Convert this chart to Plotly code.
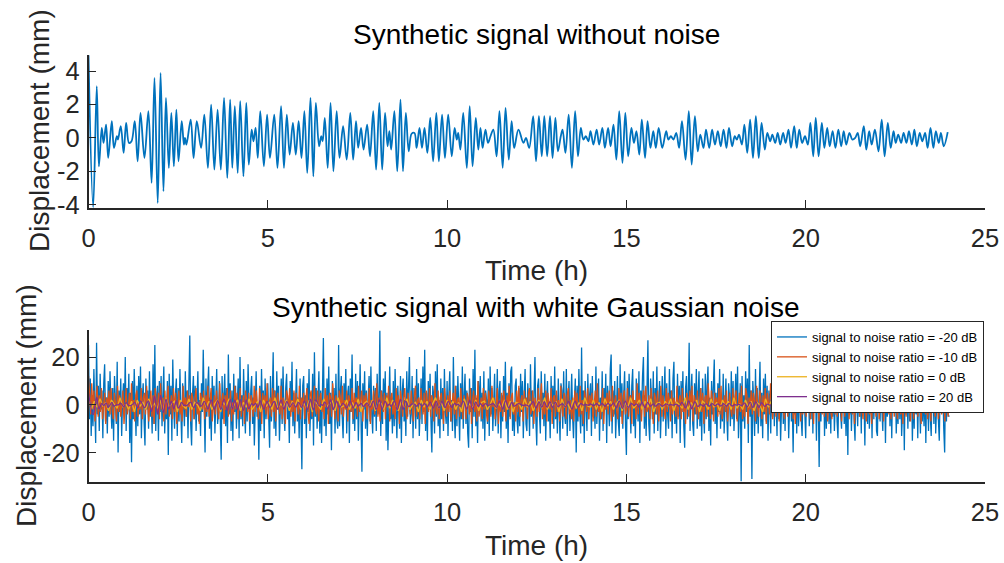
import numpy as np
import plotly.graph_objects as go

# ---------------- data ----------------
# Clean synthetic signal: times (h) and displacement (mm) at its turning points
sig_t = [0.00, 0.13, 0.23, 0.29, 0.37, 0.42, 0.49, 0.55, 0.65, 0.71, 0.79, 0.82, 0.90, 0.98, 1.05, 1.13, 1.20,
         1.29, 1.37, 1.45, 1.56, 1.67, 1.76, 1.84, 1.93, 2.01, 2.09, 2.16, 2.24, 2.31, 2.38, 2.45, 2.51, 2.60,
         2.66, 2.69, 2.73, 2.85, 2.93, 3.02, 3.14, 3.23, 3.33, 3.42, 3.51, 3.60, 3.69, 3.78, 3.87, 3.95, 4.01,
         4.08, 4.16, 4.23, 4.32, 4.40, 4.47, 4.55, 4.60, 4.66, 4.72, 4.79, 4.89, 4.98, 5.06, 5.18, 5.27, 5.37,
         5.45, 5.53, 5.61, 5.70, 5.78, 5.86, 5.94, 6.02, 6.10, 6.19, 6.27, 6.34, 6.43, 6.49, 6.53, 6.59, 6.67,
         6.75, 6.83, 6.92, 7.00, 7.10, 7.20, 7.30, 7.38, 7.46, 7.52, 7.60, 7.67, 7.77, 7.85, 7.94,
         8.02, 8.11, 8.19, 8.27, 8.34, 8.39, 8.44, 8.53, 8.61, 8.70, 8.77, 8.85, 8.93, 9.01, 9.09, 9.15, 9.23,
         9.30, 9.37, 9.45, 9.53, 9.61, 9.70, 9.77, 9.86, 9.94, 10.03, 10.13, 10.21, 10.27, 10.31, 10.37, 10.45,
         10.55, 10.63, 10.71, 10.80, 10.87, 10.93, 10.99, 11.07, 11.14, 11.21, 11.29, 11.38, 11.46, 11.55,
         11.63, 11.72, 11.80, 11.87, 11.99, 12.13, 12.20, 12.29, 12.40, 12.48, 12.56, 12.64, 12.71, 12.79,
         12.87, 12.94, 13.02, 13.09, 13.17, 13.22, 13.30, 13.39, 13.48, 13.57, 13.65, 13.73, 13.80, 13.87,
         13.94, 14.00, 14.08, 14.17, 14.24, 14.33, 14.40, 14.49, 14.56, 14.64, 14.72, 14.80, 14.89, 14.97,
         15.05, 15.14, 15.21, 15.28, 15.36, 15.43, 15.52, 15.59, 15.67, 15.75, 15.82, 15.90,
         16.00, 16.11, 16.17, 16.24, 16.31, 16.39, 16.47, 16.55, 16.65, 16.74, 16.82, 16.91, 16.99, 17.06,
         17.15, 17.22, 17.31, 17.39, 17.47, 17.55, 17.63, 17.71, 17.79, 17.86, 17.95, 18.02, 18.08, 18.14,
         18.22, 18.29, 18.37, 18.45, 18.53, 18.61, 18.69, 18.77, 18.86, 18.93, 19.01, 19.07, 19.15, 19.22,
         19.29, 19.37, 19.44, 19.52, 19.59, 19.68, 19.75, 19.82, 19.90, 19.98, 20.06, 20.13, 20.21, 20.28,
         20.36, 20.45, 20.52, 20.60, 20.67, 20.75, 20.83, 20.91, 20.99, 21.06, 21.13, 21.22, 21.30, 21.38,
         21.45, 21.52, 21.62, 21.69, 21.77, 21.84, 21.93, 22.03, 22.12, 22.20, 22.29, 22.37, 22.45, 22.51,
         22.58, 22.66, 22.73, 22.81, 22.88, 22.96, 23.03, 23.10, 23.18, 23.25, 23.33, 23.40, 23.48, 23.56,
         23.63, 23.71, 23.77, 23.85, 23.96]
sig_v = [4.95, -4.15, 3.1, -1.7, 0.6, -0.3, 0.8, -1.2, 1.0, -0.6, 0.1, -0.1, 0.7, -0.9, 0.9, -0.3, -0.2,
         1.0, -1.4, 1.5, -1.2, 1.6, -2.7, 3.6, -3.9, 3.9, -3.2, 2.4, -1.8, 1.5, -1.7, 1.7, -1.4, 1.0,
         -0.4, 0.0, -0.4, 1.1, -1.2, 1.0, -0.6, 1.4, -1.8, 2.0, -1.9, 1.7, -1.9, 2.4, -2.4, 2.3, -1.8,
         1.9, -2.1, 2.2, -2.3, 2.1, -1.6, 0.5, -0.2, 0.6, -1.2, 1.6, -1.7, 1.4, -1.2, 1.4, -1.8, 1.9,
         -1.8, 1.4, -1.0, 0.9, -1.0, 1.0, -1.2, 1.6, -2.1, 2.4, -2.3, 2.1, -0.5, 0.1, -0.2, 1.2, -1.8,
         2.1, -2.0, 1.6, -1.2, 0.7, -1.3, 1.5, -1.3, 1.0, -0.6, 0.6, -0.7, 0.8, -1.1, 1.6,
         -1.9, 2.1, -1.9, 1.5, -0.5, 0.4, -0.7, 1.6, -2.0, 2.3, -2.0, 1.5, -0.8, 0.25, 0.3, -0.6, 0.6,
         -0.6, 0.6, -0.9, 1.2, -1.4, 1.5, -1.4, 1.4, -1.2, 1.4, -1.1, 0.6, -0.1, 0.3, -0.7, 1.5,
         -1.8, 1.9, -1.7, 1.2, -0.7, 0.6, -0.6, 0.5, -0.3, 0.1, 0.5, -1.1, 1.6, -1.8,
         1.8, -1.3, 1.0, -0.6, 0.5, -0.3, 0.0, -0.6, 1.3, -1.4, 1.3, -1.1, 1.3, -1.1,
         1.3, -1.2, 1.2, -0.8, 0.1, 0.5, -0.9, 1.4, -1.8, 1.6, -1.1, 0.6, -0.1, 0.1,
         -0.2, 0.4, -0.4, 0.5, -0.4, 0.6, -0.6, 0.6, -0.5, 0.8, -1.3, 1.6, -1.5, 1.5,
         -1.1, 0.6, -0.3, 0.4, -1.0, 1.1, -1.2, 1.0, -0.6, 0.4, -0.6, 0.6,
         -0.6, 0.4, -0.1, 0.1, -0.1, 0.3, -0.6, 1.0, -1.3, 1.6, -1.6, 1.3, -0.8, 0.2,
         -0.6, 0.5, -0.6, 0.5, -0.4, 0.4, -0.5, 0.5, -0.6, 0.6, -0.5, 0.1, -0.1, 0.2,
         -0.4, 0.8, -0.9, 1.1, -1.2, 1.3, -1.2, 0.9, -0.7, 0.3, -0.2, 0.2, -0.3, 0.3,
         -0.4, 0.3, -0.3, 0.5, -0.6, 0.7, -0.6, 0.5, -0.3, 0.1, -0.4, 0.9, -1.1, 1.2,
         -1.1, 0.9, -0.6, 0.6, -0.5, 0.4, -0.6, 0.5, -0.5, 0.4, -0.4, 0.3, -0.1, 0.0,
         0.3, -0.5, 0.7, -0.7, 0.4, -0.4, 0.5, -0.8, 1.1, -1.1, 0.9, -0.6, 0.4, -0.3,
         0.2, -0.3, 0.3, -0.3, 0.4, -0.4, 0.5, -0.5, 0.3, -0.2, 0.3, -0.6, 0.6, -0.6,
         0.4, -0.3, 0.3, -0.5, 0.35]

# Noisy signals, evenly sampled over 0-24 h (one row = 1 h for -20 dB, 1.5 h for -10 dB, 2 h for 0 dB)
snr_m20 = [
    25, -6, 11, -13, 4, -9, 15, 2, -16, 26, -4, 8, -11, 13, -2, 6, -14, 9, 17, -7, 3, -12, 10, -5, 14, -1, -10, 7, -15, 12, 4, -8, 18, -20, 6, -3, 11, -13, 2, 9,
    -5, 20, -11, 7, -2, 13, -16, 5, -24, 10, -6, 15, 1, -13, 8, -9, 12, -4, 16, -14, 3, 9, -7, -17, 11, -2, 6, -10, 14, -5, 1, -12, 17, -8, 25, -11, 4, 8, -15, 10,
    -3, 12, -9, 6, 16, -12, 2, -6, 10, -21, 13, -4, 8, -15, 19, -1, -10, 5, 11, -13, 7, -7, 15, -3, -16, 9, 2, -9, 14, -5, 6, -14, 10, 29, -8, -17, 4, 12, -6, 8,
    -11, 5, 14, -7, 2, -13, 9, -3, 23, 1, -20, 11, -5, 7, 16, -10, 3, -15, 12, -2, 8, -12, 5, 15, -8, -3, 10, -14, -23, 12, -6, 4, 13, -9, 7, -16, 21, -4, 9, -11,
    6, -15, 13, -3, 8, -10, 2, 11, -14, 20, -6, 4, -9, 15, -1, -12, 10, -7, 17, -4, -13, 6, 12, -8, 3, -17, 9, 14, -5, 1, -23, 8, -11, 15, -2, 6, -14, 11, -6, 4,
    9, -5, -18, 12, -7, 3, 22, -10, 6, -13, 14, -2, 8, -15, 1, 11, -8, 16, -4, -11, 7, 13, -6, 2, -16, 10, -3, 18, -9, 5, -12, 9, 15, -7, 3, -14, 11, -5, -27, 8,
    12, -8, 4, -14, 9, -3, 15, -11, 2, -6, 13, -17, 22, -5, 7, -10, 3, 14, -12, 6, -16, 9, 28, -9, 1, -13, 11, -4, 16, -8, 5, -19, 10, -2, 7, -12, 13, -6, -10, 25,
    -9, 6, 12, -5, -14, 9, -1, 15, -12, 4, 8, -16, 11, -3, 21, -8, 2, -11, 13, -6, 10, -15, 4, 17, -7, -28, 9, -2, 14, -10, 6, -13, 3, 12, -7, 16, -4, -12, 8, -5,
    7, -11, 13, -4, 2, 31, -13, 6, -8, 11, -2, 14, -15, 5, -19, 9, 16, -6, 3, -12, 10, -9, 15, -3, -14, 8, 1, -10, 12, -16, 6, 11, -7, 2, -13, 14, -5, 9, 20, -8,
    -4, 12, -14, 7, 3, -10, 15, -6, 9, -13, 1, 11, -8, 16, -3, 23, -11, 5, -15, 10, -2, 13, -7, -20, 8, 4, -12, 14, -5, 17, -9, 2, -14, 11, -6, 7, -11, 15, -3, -8,
    10, -13, 5, 14, -7, 2, -11, 20, -4, -14, 8, -9, 12, 1, -15, 9, -6, 16, -10, 4, 13, -8, 6, -12, -18, 11, -3, 7, -14, 15, -5, 23, -9, 3, -16, 10, -2, 12, -7, 5,
    -10, 14, -15, 6, 2, -8, 11, -13, 16, -4, 7, -11, 3, 13, -9, -2, 15, -12, 6, 10, -14, 4, -7, 12, -3, 18, -10, 5, -16, 9, -5, 14, 16, -11, 1, -13, 8, 11, -6, -12,
    7, -9, 13, -3, 10, -14, 4, 15, -8, -11, 9, 2, -13, 17, -5, 6, -10, 12, 20, -6, -17, 8, 11, -4, -12, 14, -2, 5, -9, 13, -15, 3, 10, -7, 1, -14, 12, -3, 8, -10,
    16, -6, 4, -12, 11, -2, -15, 9, 6, -10, 14, -4, -8, 15, -13, 3, 10, -11, 7, 13, -5, -14, 2, 11, -20, 8, -7, 15, -3, -12, 24, -9, 6, -16, 10, 1, -11, 13, -6, 4,
    9, -13, 12, -5, 2, -10, 16, -8, 5, 11, -15, 3, -6, 14, -11, 7, -2, 13, -16, 8, 1, -9, 15, 21, -12, 6, -4, 10, -14, 3, 12, -7, -13, 17, -5, 9, -10, 4, 14, -8,
    -21, 10, -6, 13, -3, -12, 8, 15, -9, 2, -14, 11, 5, -7, 14, -16, 6, -2, 12, 20, -10, 4, -13, 9, 27, -8, -15, 11, 3, -6, 14, -12, 7, -4, 16, -11, 2, 10, -14, 5,
    12, -7, 3, 16, -13, 9, -4, -10, 15, -2, 6, -14, 11, 18, -8, 1, -12, 13, -5, 8, -16, 10, -3, 14, -9, -18, 7, 12, -6, 2, 26, -11, 5, 13, -8, -13, 9, -4, 15, -10,
    4, 14, -9, 7, -15, 11, -2, -12, 13, -6, 8, 16, -11, 3, -17, 10, -4, 12, 19, -8, 5, -14, 9, -3, 15, -10, 2, -7, 13, -12, 6, 11, -5, -15, 9, 3, -9, 14, -6, 10,
    -11, 8, 13, -6, 16, -14, 3, 9, -32, 12, -7, 4, -10, 14, -3, 11, -16, 25, -5, 6, -31, 10, 2, -13, 15, -8, 7, -12, 3, 18, -9, 5, -14, 11, -4, 13, -7, 8, -15, 6,
    2, -12, 11, -5, 14, -9, 7, 3, -13, 15, -6, 10, -15, 4, 12, -8, 6, -11, 16, -2, 9, -14, 5, 13, -7, 1, -20, 11, -4, 8, -12, 14, -9, 3, 10, -6, -13, 7, 12, -3,
    -14, 8, 5, 12, -9, 3, -6, 15, -12, 10, -2, 7, -15, 13, 4, -26, 9, -7, 11, -3, 16, -13, 6, -10, 2, 14, -8, 5, -12, 17, -5, 9, -11, 3, 13, -7, -14, 8, 10, -4,
    -10, 12, 6, -8, 3, -13, 11, -21, 14, -4, 7, -11, 9, 15, -6, -15, 10, 2, -9, 13, -5, 8, -12, 16, -3, 4, -17, 11, 6, -8, 13, -10, 1, 9, -14, 12, -6, 5, 15, -11,
    -13, 9, 4, -7, 15, -2, -11, 12, 6, -16, 10, -5, 3, 14, -9, 8, -14, 11, -3, 7, 13, -12, 2, -8, 16, -6, 10, -13, 5, 9, -19, 12, -4, 7, -10, 14, -7, 3, 11, -15,
    6, -10, 13, -4, 8, -14, 11, 2, -12, 15, -7, 5, -9, 12, -16, 10, 3, -11, 14, -5, -13, 9, 6, -8, 16, -12, 4, 11, -6, -15, 8, 13, -3, 7, -10, -20, 12, -7, 9, -4,
    -5]
snr_m10 = [
    12, 3, -4, 9, -2, 6, -7, 1, 8, -5, 4, -3, 7, -6, 2, 5, -8, 3, -1, 6, -4, 7, -2, -6, 5, 1, -7, 8, -3, 4, -5, 2, 6, -8, 3, 7, -4, -1, 5, -6, 9, -3, 2, -7, 4, 6, -5, 1, -2, 7,
    -6, 3, 5, -4, 8, -1, -7, 2, 6, -5, 4, -8, 7, 1, -3, 5, -6, 9, -2, 3, -7, 6, -4, 2, 8, -5, -1, 4, -6, 7, -3, 5, -8, 2, 6, -4, 1, -7, 8, -2, 3, -5, 6, -1, 4, -7, 5, 2, -6, 3,
    7, -4, 1, -8, 5, 3, -2, 6, -6, 4, -3, 8, -5, 2, 7, -7, 1, 4, -4, 6, -1, -6, 9, -3, 2, 5, -8, 4, -2, 7, -5, 3, 6, -7, 1, -4, 8, -2, 5, -6, 3, 7, -5, -1, 4, -8, 6, 2, -3, 5,
    -7, 4, 2, -5, 8, -3, 6, -1, -6, 7, 3, -8, 5, -2, 4, -4, 9, -6, 1, 3, -5, 7, -3, 6, -7, 2, 5, -1, -4, 8, -6, 3, 1, -8, 6, 4, -2, 7, -5, 2, -3, 6, -7, 5, 1, -4, 8, -6, 3, -1,
    5, -6, 2, 7, -3, -8, 4, 6, -5, 1, 8, -2, -4, 6, -7, 3, 5, -3, 2, -6, 7, -1, 4, -8, 5, 3, -5, 9, -2, -6, 4, 1, -7, 6, 3, -4, 8, -5, 2, -2, 6, -7, 4, 1, -3, 7, -6, 5, -1, 3,
    -5, 8, -3, 2, 6, -7, 4, -1, 5, -6, 3, 7, -8, 2, -2, 6, -4, 1, 9, -5, 3, -7, 6, 2, -3, 5, -6, 4, -1, 8, -7, 3, 5, -4, 1, -6, 7, -2, 4, -8, 6, 2, -5, 3, 7, -3, -6, 5, 1, -4,
    6, -2, -7, 4, 8, -5, 2, 3, -6, 7, -1, -4, 5, -8, 6, 1, -3, 7, -5, 4, 2, -7, 9, -2, -4, 6, -6, 3, 5, -1, -8, 7, 2, -5, 4, -3, 6, -7, 1, 5, -4, 8, -6, 2, 3, -5, 7, -2, -6, 4,
    1, -6, 5, 3, -4, 7, -8, 2, 6, -3, 4, -7, 10, -5, 1, 3, -6, 7, -2, 5, -4, -7, 6, 2, -5, 8, -1, 3, -6, 4, 7, -8, 2, -3, 5, -5, 6, 1, -7, 4, -2, 8, -6, 3, 5, -4, 1, -7, 6, -3,
    8, -5, 2, 4, -7, 6, -1, 3, -6, 5, 7, -4, -2, 6, -8, 3, 1, -5, 7, -3, 4, 9, -6, 2, -4, 6, -7, 5, 1, -2, 7, -8, 3, 4, -5, 6, -3, 2, -7, 8, -1, -5, 5, 3, -6, 4, 7, -4, 2, -6,
    3, -7, 6, -2, 5, 1, -5, 8, -4, 2, -8, 6, 3, -3, 7, -6, 4, -1, 5, -7, 2, 6, -5, 9, -3, 1, -6, 4, 7, -8, 3, -2, 5, -4, 6, 2, -7, 8, -5, 1, 4, -3, -6, 7, -1, 5, -8, 3, 6, -4,
    -2, 7, -5, 3, 4, -8, 6, -1, 2, -6, 9, -4, 5, 1, -7, 3, 6, -5, 8, -3, -2, 4, -6, 7, 1, -8, 5, 3, -4, 6, -7, 2, 8, -5, 4, -1, -6, 7, -3, 5, 2, -7, 6, -4, 3, 1, -5, 8, -6, 2,
    4, -6, 7, -3, 1, -8, 5, 3, -5, 6, -2, 8, -7, 4, 2, -4, 6, -6, 1, 7, -3, 5, -8, 3, 4, -5, 9, -2, -6, 6, 2, -7, 5, -1, 3, -5, 7, -4, 8, -6, 1, 4, -3, 6, -7, 2, 5, -2, -5, 7,
    -4, 3, 6, -7, 2, 5, -3, 8, -6, 1, -5, 7, 4, -8, 3, -2, 6, -4, 5, 2, -7, 8, -1, -5, 6, 3, -6, 4, -3, 7, -8, 5, 1, -4, 9, -2, -6, 3, 6, -5, 2, 7, -7, 4, -1, 5, -3, -6, 8, 2,
    -5, 6, -2, 3, 7, -6, 4, -8, 5, 1, -3, 6, -7, 8, -4, 2, 5, -5, 3, -1, 7, -6, 4, 2, -8, 6, -3, 5, 1, -7, 8, -2, -4, 6, -5, 3, 4, -7, 2, 7, -3, -6, 5, 1, -4, 8, -5, 3, -2, 6,
    -7, 4, 2, -5, 8, -1, 6, -6, 3, 5, -4, 7, -8, 1, 4, -3, 6, -5, 9, -2, -6, 5, 2, -7, 3, 6, -4, 1, -8, 7, -2, 5, -5, 3, 6, -6, 4, -1, 7, -7, 2, 5, -3, 8, -4, 1, -6, 6, 3, -5,
    5, -3, -6, 7, 2, -4, 6, -8, 4, 1, -5, 8, -2, 3, -7, 6, 4, -6, 2, -3, 7, -5, 5, 1, -8, 6, -1, 3, -4, 7, -6, 2, 5, -7, 8, -3, 4, -5, 1, 6, -6, 3, 7, -4, -2, 5, -7, 6, 2, -5,
    3]
snr_0 = [
    3.5, -2, 1.5, -1, 2.5, -0.5, 1, -2.5, 2, 0, -1.5, 3, -1, 0.5, -2, 1.5, -3, 2, -0.5, 1, -2, 2.5, -1, 0.5, -1.5,
    2, -2.5, 3, -1, 0.5, 1.5, -3, 2, -0.5, -1.5, 2.5, -2, 1, 0, -2.5, 3, -1, 1.5, -2, 0.5, 2, -3, 1, -0.5, 2.5,
    -1.5, 0.5, 2, -2.5, 1, -1, 2.5, -2, 0, 1.5, -3, 2, -0.5, 1, -2, 3, -1.5, 0.5, -1, 2, -2.5, 1.5, -0.5, 2.5, -2,
    1, -1.5, 2, -3, 1.5, 0, -2, 2.5, -1, 0.5, 1.5, -2.5, 3, -1, -0.5, 2, -2, 1, -1.5, 2.5, -3, 0.5, 1.5, -1, 2,
    -2.5, 1, 0.5, -2, 3, -1.5, 2, -0.5, -2.5, 1.5, -1, 2.5, -2, 0, 1, -3, 2, -1, 1.5, -2, 0.5, 3, -1.5, 1, -2.5,
    2, -0.5, 1.5, -2, 1, -3, 2.5, -1, 0.5, -1.5, 2, -2.5, 1, 1.5, -2, 0, 3, -1.5, 0.5, -1, 2, -2, 1.5, -3, 1,
    0.5, -2, 2.5, -1, 1.5, -2.5, 0, 2, -1.5, 3, -2, 1, -0.5, 1.5, -3, 2.5, -1, 0.5, -2, 2, -1.5, 1, -2.5, 3, -0.5,
    -1, 2, -2, 1, -3, 2.5, -0.5, 1.5, -2, 0.5, 2, -2.5, 1, -1, 3, -1.5, 0, 2, -2, 1.5, -1, 2.5, -3, 0.5, 1,
    -2, 1.5, -0.5, 2.5, -2.5, 1, 0, -1.5, 3, -2, 1, -1, 2, -3, 1.5, 0.5, -2, 2.5, -1, 1, -2.5, 2, -0.5, 1.5, -2,
    3, -1.5, 0.5, -2, 2, -1, 1.5, -2.5, 1, 0, -3, 2.5, -1, 1.5, -2, 0.5, 2, -1.5, 1, -2.5, 3, -1, 0, 1.5, -2,
    1, -2.5, 2, -0.5, 1.5, -2, 0.5, 2.5, -3, 1, -1, 2, -1.5, 0, 3, -2, 1, -1.5, 2, -2.5, 0.5, 1.5, -1, 2.5, -2,
    0.5, -1.5, 2, -2, 1, 3, -2.5, 0.5, -1, 1.5, -2, 2.5, -0.5, 1, -3, 2, -1, 0.5, 1.5, -2, 1, -2.5, 2, -1, 0.5,
    1]
# 20 dB: noise is invisible at this scale, the curve is the clean signal
snr_20_t = sig_t
snr_20_v = sig_v

series_names = ["signal to noise ratio = -20 dB", "signal to noise ratio = -10 dB",
                "signal to noise ratio = 0 dB", "signal to noise ratio = 20 dB"]
x_ticks = [0, 5, 10, 15, 20, 25]
x_ticktext = ["0", "5", "10", "15", "20", "25"]
y1_ticks = [-4, -2, 0, 2, 4]
y1_ticktext = ["-4", "-2", "0", "2", "4"]
y2_ticks = [-20, 0, 20]
y2_ticktext = ["-20", "0", "20"]

# ---------------- figure ----------------
W, H = 1004, 563
BLUE, ORANGE, YELLOW, PURPLE = "#0072BD", "#D95319", "#EDB120", "#7E2F8E"
AX = "#262626"
FONT = "Liberation Sans, Arial, Helvetica, sans-serif"
TICK_SIZE = 25.5
LABEL_SIZE = 28


def px_x(p):
    return p / W


def px_y(p):
    return 1 - p / H


fig = go.Figure()

fig.add_trace(go.Scatter(x=sig_t, y=sig_v, mode="lines", line=dict(color=BLUE, width=1.8, shape="spline"),
                         showlegend=False, xaxis="x", yaxis="y", hoverinfo="skip"))

noisy = [(snr_m20, BLUE), (snr_m10, ORANGE), (snr_0, YELLOW)]
for (vals, col), name in zip(noisy, series_names[:3]):
    t = np.linspace(0, 24, len(vals))
    fig.add_trace(go.Scatter(x=t, y=vals, mode="lines", name=name, line=dict(color=col, width=1.3),
                             xaxis="x2", yaxis="y2", hoverinfo="skip"))
fig.add_trace(go.Scatter(x=snr_20_t, y=snr_20_v, mode="lines", name=series_names[3],
                         line=dict(color=PURPLE, width=1.3, shape="spline"), xaxis="x2", yaxis="y2",
                         hoverinfo="skip"))

xdom = [px_x(88.5), px_x(985)]
common_x = dict(range=[0, 25], tickvals=x_ticks, ticktext=x_ticktext, ticks="inside", ticklen=8,
                tickwidth=1.3, tickcolor=AX, showline=True, linecolor=AX, linewidth=1.5, showgrid=False,
                zeroline=False, tickfont=dict(size=TICK_SIZE, color=AX, family=FONT), ticklabelstandoff=7,
                domain=xdom, automargin=False)
common_y = dict(ticks="inside", ticklen=8, tickwidth=1.3, tickcolor=AX, showline=True, linecolor=AX,
                linewidth=1.5, showgrid=False, zeroline=False, automargin=False,
                tickfont=dict(size=TICK_SIZE, color=AX, family=FONT), ticklabelstandoff=2)

fig.update_layout(
    width=W, height=H, margin=dict(l=0, r=0, t=0, b=0),
    paper_bgcolor="white", plot_bgcolor="white",
    font=dict(family=FONT, color=AX),
    xaxis=dict(**common_x, anchor="y"),
    yaxis=dict(**common_y, range=[-4.2, 4.97], tickvals=y1_ticks, ticktext=y1_ticktext,
               domain=[px_y(208), px_y(55)], anchor="x"),
    xaxis2=dict(**common_x, anchor="y2"),
    yaxis2=dict(**common_y, range=[-32.3, 31.3], tickvals=y2_ticks, ticktext=y2_ticktext,
                domain=[px_y(482), px_y(330)], anchor="x2"),
    legend=dict(x=px_x(984), xanchor="right", y=px_y(321), yanchor="top",
                bgcolor="white", bordercolor=AX, borderwidth=1,
                font=dict(size=13, color="black", family=FONT), tracegroupgap=0),
    showlegend=True,
)

ann = [
    dict(text="Synthetic signal without noise", x=px_x(536), y=px_y(35), angle=0),
    dict(text="Time (h)", x=px_x(536), y=px_y(270), angle=0),
    dict(text="Displacement (mm)", x=px_x(39), y=px_y(131), angle=-90),
    dict(text="Synthetic signal with white Gaussian noise", x=px_x(536), y=px_y(307), angle=0),
    dict(text="Time (h)", x=px_x(536), y=px_y(545), angle=0),
    dict(text="Displacement (mm)", x=px_x(26), y=px_y(406), angle=-90),
]
for a in ann:
    fig.add_annotation(text=a["text"], x=a["x"], y=a["y"], xref="paper", yref="paper",
                       xanchor="center", yanchor="middle", showarrow=False, textangle=a["angle"],
                       font=dict(size=LABEL_SIZE, color="black" if "Synthetic" in a["text"] else AX,
                                 family=FONT))

# the page's default 8px body margin would shift the figure; remove it
fig.write_html("out.html", config={"displayModeBar": False},
               post_script="document.body.style.margin='0';document.body.style.overflow='hidden';")
